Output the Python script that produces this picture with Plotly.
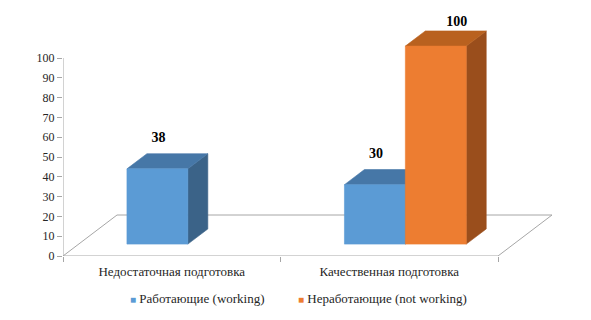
import plotly.graph_objects as go

# ---- data ----
categories = ["Недостаточная подготовка", "Качественная подготовка"]
series_names = ["Работающие (working)", "Неработающие (not working)"]
working = [38, 30]
not_working = [None, 100]
y_tick_values = list(range(0, 101, 10))

# ---- style / geometry constants ----
FRONT = ["#5B9BD5", "#ED7D31"]
TOP = ["#4677A7", "#B9611F"]
SIDE = ["#3B6388", "#9A4E1C"]
AXIS_GRAY = "#A6A6A6"
TEXT = "#262626"
FONT = "Liberation Serif"

W, H = 591, 320
L, R, T, B = 63, 28, 10, 64
PX_PER_CAT = 217.5
PX_PER_UNIT = 1.98
PLOT_W = W - L - R
PLOT_H = H - T - B
X_MAX = PLOT_W / PX_PER_CAT
Y_MAX = PLOT_H / PX_PER_UNIT
DDX = 54 / PX_PER_CAT      # full floor depth, x shift
DDY = 41 / PX_PER_UNIT     # full floor depth, y shift
D0, D1 = 0.29, 0.66        # bar depth span
BAR_OFF, BAR_W = 0.222, 0.28
LABEL_GAP = 15 / PX_PER_UNIT
LABEL_LIMIT = 118


def P(x, v, d):
    return x + DDX * d, v + DDY * d


def poly(points, color, line_color=None, width=0.6):
    xs = [p[0] for p in points] + [points[0][0]]
    ys = [p[1] for p in points] + [points[0][1]]
    return go.Scatter(x=xs, y=ys, mode="lines", fill="toself", fillcolor=color,
                      line=dict(color=line_color or color, width=width),
                      hoverinfo="skip", showlegend=False)


fig = go.Figure()

# floor
n = len(categories)
floor = [P(0, 0, 0), P(n, 0, 0), P(n, 0, 1), P(0, 0, 1)]
fig.add_trace(poly(floor, "white", AXIS_GRAY, 1))

lab_x, lab_y, lab_t = [], [], []
all_series = [working, not_working]
for ci in range(n):
    for si, ser in enumerate(all_series):
        v = ser[ci]
        if v is None:
            continue
        x0 = ci + BAR_OFF + BAR_W * si
        x1 = x0 + BAR_W
        front = [P(x0, 0, D0), P(x1, 0, D0), P(x1, v, D0), P(x0, v, D0)]
        top = [P(x0, v, D0), P(x1, v, D0), P(x1, v, D1), P(x0, v, D1)]
        side = [P(x1, 0, D0), P(x1, 0, D1), P(x1, v, D1), P(x1, v, D0)]
        fig.add_trace(poly(side, SIDE[si]))
        fig.add_trace(poly(top, TOP[si]))
        fig.add_trace(poly(front, FRONT[si]))
        lx = P((x0 + x1) / 2, v, D0)[0] + 1 / PX_PER_CAT
        ly = v + DDY * D1 + LABEL_GAP
        if ly > LABEL_LIMIT:
            ly = LABEL_LIMIT
            lx += DDX * (D1 - D0)
        lab_x.append(lx)
        lab_y.append(ly)
        lab_t.append(f"<b>{v}</b>")

fig.add_trace(go.Scatter(x=lab_x, y=lab_y, text=lab_t, mode="text",
                         textposition="middle center", cliponaxis=False,
                         textfont=dict(family=FONT, size=14, color="black"),
                         hoverinfo="skip", showlegend=False))

# x tick marks at category boundaries
fig.add_trace(go.Scatter(x=[None], y=[None], xaxis="x2", showlegend=False))

# legend (text entries with coloured squares)
legend_px = [129, 297]
legend_py = 298
annotations = []
for si, name in enumerate(series_names):
    annotations.append(dict(
        xref="paper", yref="paper",
        x=(legend_px[si] - 1 - L) / PLOT_W, y=(H - B - legend_py) / PLOT_H,
        xanchor="left", yanchor="middle", showarrow=False,
        text=f"<span style='color:{FRONT[si]};font-size:10px'>■</span> {name}",
        font=dict(family=FONT, size=13, color=TEXT)))

fig.update_layout(
    width=W, height=H,
    margin=dict(l=L, r=R, t=T, b=B, autoexpand=False),
    paper_bgcolor="white", plot_bgcolor="white",
    showlegend=False,
    font=dict(family=FONT, size=12, color=TEXT),
    xaxis=dict(range=[0, X_MAX], tickvals=[i + 0.5 for i in range(n)], ticktext=categories,
               showgrid=False, zeroline=False, showline=False, ticks="",
               ticklabelstandoff=6, tickfont=dict(family=FONT, size=13, color=TEXT)),
    xaxis2=dict(overlaying="x", matches="x", range=[0, X_MAX], tickvals=list(range(n + 1)),
                showticklabels=False, ticks="outside", ticklen=5, tickcolor=AXIS_GRAY,
                showgrid=False, zeroline=False, showline=False, anchor="y", side="bottom"),
    yaxis=dict(range=[0, Y_MAX], tickvals=y_tick_values, showgrid=False, zeroline=False,
               showline=False, ticks="outside", ticklen=5, tickcolor=AXIS_GRAY,
               tickfont=dict(family=FONT, size=12, color=TEXT)),
    shapes=[dict(type="line", xref="x", yref="y", x0=0, x1=0, y0=0, y1=100,
                 line=dict(color=AXIS_GRAY, width=1))],
    annotations=annotations,
)

fig.write_html("out.html")
